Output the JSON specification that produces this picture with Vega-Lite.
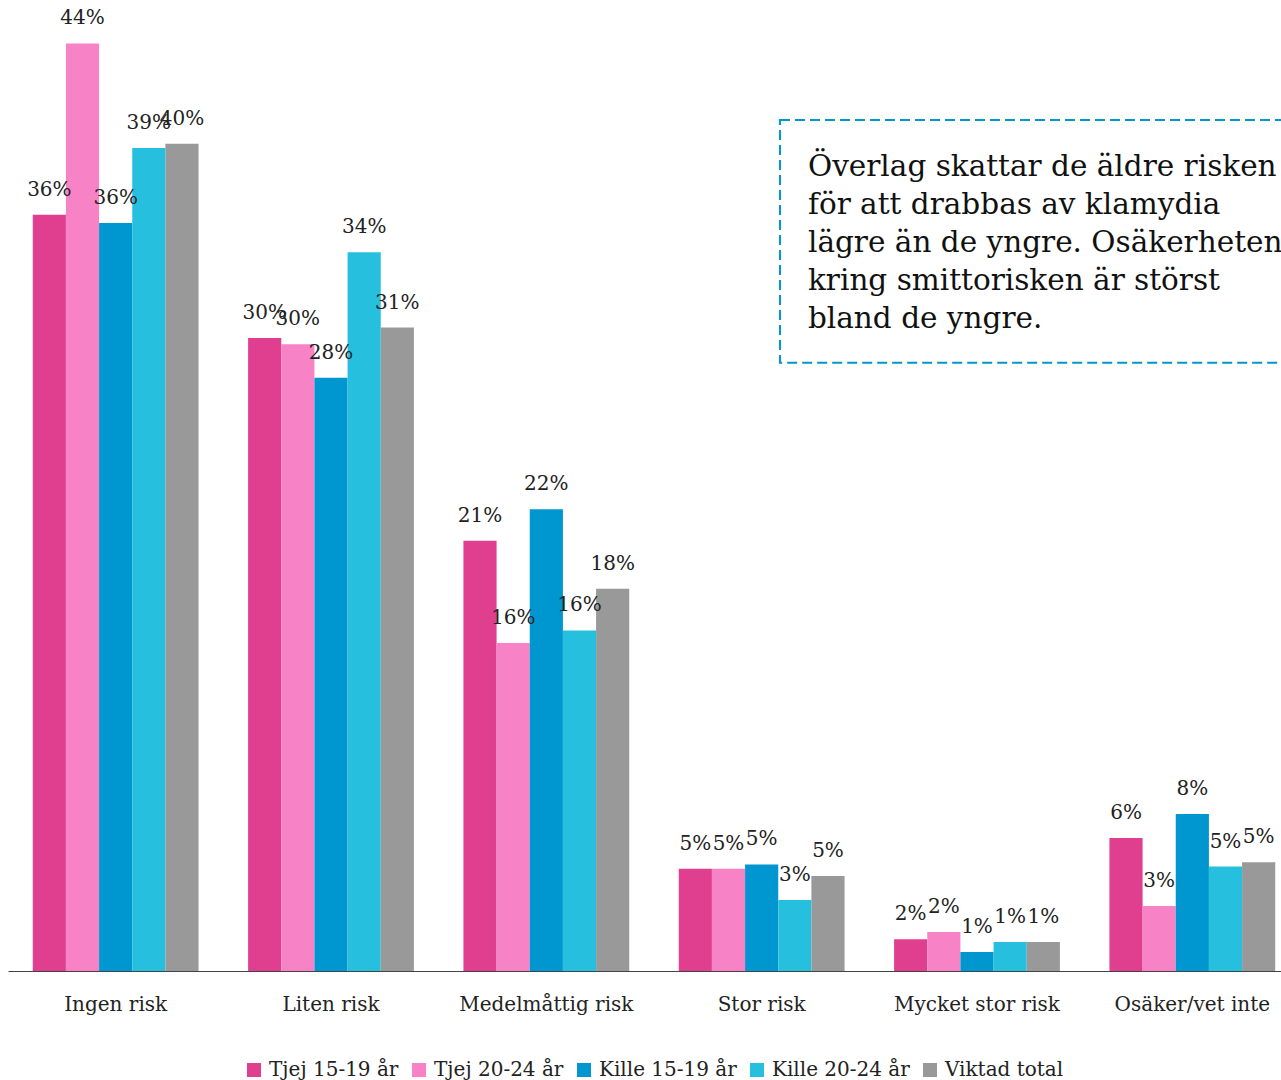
{
  "$schema": "https://vega.github.io/schema/vega-lite/v6.json",
  "width": 1292,
  "height": 961,
  "autosize": {"type": "none"},
  "padding": {"left": 8, "top": 10, "right": 0, "bottom": 109},
  "config": {"view": {"stroke": null}, "font": "DejaVu Serif", "legend": {"layout": {"bottom": {"anchor": "middle"}}}},
  "data": {"values": [
    {"kat": "Ingen risk", "grupp": "Tjej 15-19 år", "andel": 0.362},
    {"kat": "Ingen risk", "grupp": "Tjej 20-24 år", "andel": 0.444},
    {"kat": "Ingen risk", "grupp": "Kille 15-19 år", "andel": 0.358},
    {"kat": "Ingen risk", "grupp": "Kille 20-24 år", "andel": 0.394},
    {"kat": "Ingen risk", "grupp": "Viktad total", "andel": 0.396},
    {"kat": "Liten risk", "grupp": "Tjej 15-19 år", "andel": 0.303},
    {"kat": "Liten risk", "grupp": "Tjej 20-24 år", "andel": 0.300},
    {"kat": "Liten risk", "grupp": "Kille 15-19 år", "andel": 0.284},
    {"kat": "Liten risk", "grupp": "Kille 20-24 år", "andel": 0.344},
    {"kat": "Liten risk", "grupp": "Viktad total", "andel": 0.308},
    {"kat": "Medelmåttig risk", "grupp": "Tjej 15-19 år", "andel": 0.206},
    {"kat": "Medelmåttig risk", "grupp": "Tjej 20-24 år", "andel": 0.157},
    {"kat": "Medelmåttig risk", "grupp": "Kille 15-19 år", "andel": 0.221},
    {"kat": "Medelmåttig risk", "grupp": "Kille 20-24 år", "andel": 0.163},
    {"kat": "Medelmåttig risk", "grupp": "Viktad total", "andel": 0.183},
    {"kat": "Stor risk", "grupp": "Tjej 15-19 år", "andel": 0.049},
    {"kat": "Stor risk", "grupp": "Tjej 20-24 år", "andel": 0.049},
    {"kat": "Stor risk", "grupp": "Kille 15-19 år", "andel": 0.051},
    {"kat": "Stor risk", "grupp": "Kille 20-24 år", "andel": 0.034},
    {"kat": "Stor risk", "grupp": "Viktad total", "andel": 0.0455},
    {"kat": "Mycket stor risk", "grupp": "Tjej 15-19 år", "andel": 0.0152},
    {"kat": "Mycket stor risk", "grupp": "Tjej 20-24 år", "andel": 0.0187},
    {"kat": "Mycket stor risk", "grupp": "Kille 15-19 år", "andel": 0.0091},
    {"kat": "Mycket stor risk", "grupp": "Kille 20-24 år", "andel": 0.0139},
    {"kat": "Mycket stor risk", "grupp": "Viktad total", "andel": 0.0139},
    {"kat": "Osäker/vet inte", "grupp": "Tjej 15-19 år", "andel": 0.0637},
    {"kat": "Osäker/vet inte", "grupp": "Tjej 20-24 år", "andel": 0.0311},
    {"kat": "Osäker/vet inte", "grupp": "Kille 15-19 år", "andel": 0.0752},
    {"kat": "Osäker/vet inte", "grupp": "Kille 20-24 år", "andel": 0.050},
    {"kat": "Osäker/vet inte", "grupp": "Viktad total", "andel": 0.052}
  ]},
  "resolve": {"scale": {"x": "independent"}},
  "layer": [
    {
      "layer": [
        {
          "mark": {"type": "bar"},
          "encoding": {
            "x": {"field": "kat", "type": "nominal", "sort": null, "title": null,
              "scale": {"paddingInner": 0.23, "paddingOuter": 0.115},
              "axis": {"labelAngle": 0, "ticks": false, "labelPadding": 23, "labelFontSize": 20, "labelColor": "#222222", "domainColor": "#444444", "domainWidth": 1}},
            "xOffset": {"field": "grupp", "type": "nominal", "sort": null, "scale": {"paddingInner": 0, "paddingOuter": 0}},
            "y": {"field": "andel", "type": "quantitative", "scale": {"domain": [0, 0.46], "nice": false, "zero": true}, "axis": null},
            "color": {"field": "grupp", "type": "nominal", "sort": null,
              "scale": {"domain": ["Tjej 15-19 år", "Tjej 20-24 år", "Kille 15-19 år", "Kille 20-24 år", "Viktad total"],
                        "range": ["#e03f8f", "#f783c6", "#0096d0", "#26c0de", "#999999"]},
              "legend": {"orient": "bottom", "direction": "horizontal", "title": null, "symbolType": "square", "symbolSize": 196, "symbolStrokeWidth": 0, "labelFontSize": 20, "labelColor": "#222222", "labelOffset": 5, "columnPadding": 10, "offset": 46}}
          }
        },
        {
          "mark": {"type": "text", "baseline": "middle", "dy": -25, "fontSize": 20, "color": "#222222"},
          "encoding": {
            "x": {"field": "kat", "type": "nominal", "sort": null},
            "xOffset": {"field": "grupp", "type": "nominal", "sort": null},
            "y": {"field": "andel", "type": "quantitative"},
            "text": {"field": "andel", "type": "quantitative", "format": ".0%"}
          }
        }
      ]
    },
    {
      "data": {"values": [{}]},
      "layer": [
        {
          "mark": {"type": "rect", "filled": false, "stroke": "#0096d0", "strokeWidth": 2, "strokeDash": [10, 5]},
          "encoding": {
            "x": {"datum": 3.585, "type": "quantitative", "scale": {"domain": [0, 6], "nice": false}, "axis": null},
            "x2": {"datum": 6.3},
            "y": {"datum": 0.4074, "type": "quantitative"},
            "y2": {"datum": 0.2911}
          }
        },
        {
          "mark": {"type": "text", "align": "left", "baseline": "alphabetic", "fontSize": 29.5, "lineHeight": 38, "color": "#111111"},
          "encoding": {
            "x": {"datum": 3.715, "type": "quantitative"},
            "y": {"datum": 0.3806, "type": "quantitative"},
            "text": {"value": ["Överlag skattar de äldre risken", "för att drabbas av klamydia", "lägre än de yngre. Osäkerheten", "kring smittorisken är störst", "bland de yngre."]}
          }
        }
      ]
    }
  ]
}
